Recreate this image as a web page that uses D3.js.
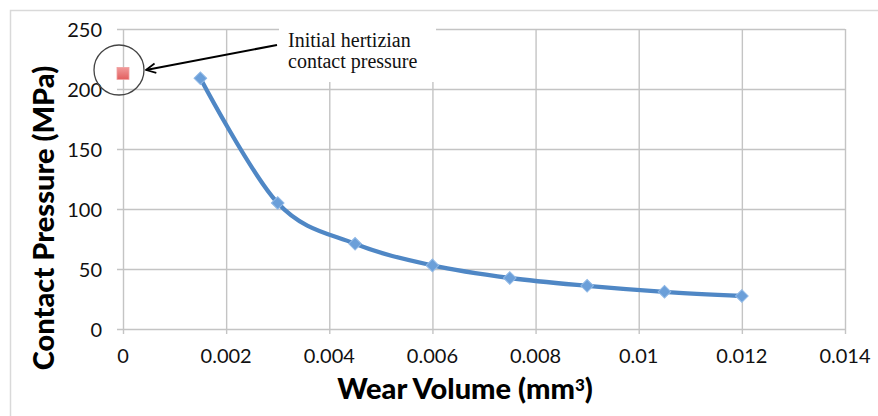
<!DOCTYPE html>
<html lang="en">
<head>
<meta charset="UTF-8" />
<title>Contact Pressure vs Wear Volume</title>
<style>
  body { margin: 0; background: #fff; }
  svg { display: block; }
</style>
</head>
<body>
<svg id="chart" width="878" height="416"></svg>
<script src="https://d3js.org/d3.v7.min.js"></script>
<script>
// data
const wearVolume = [0.0015, 0.003, 0.0045, 0.006, 0.0075, 0.009, 0.0105, 0.012];
const contactPressure = [209, 105, 71, 53, 42.5, 36, 31, 27.5];
const initialVolume = [0];
const initialPressure = [213];
const xTicks = [0, 0.002, 0.004, 0.006, 0.008, 0.01, 0.012, 0.014];
const yTicks = [0, 50, 100, 150, 200, 250];

const svg = d3.select("#chart");
const gridColor = "#c4c4c4";
const tickFont = "Lato, 'Liberation Sans', sans-serif";

const x = d3.scaleLinear().domain([0, 0.014]).range([123, 845]);
const y = d3.scaleLinear().domain([0, 250]).range([329, 29]);

// outer chart frame
svg.append("rect")
  .attr("x", 10.5).attr("y", 10.5)
  .attr("width", 900).attr("height", 450)
  .attr("fill", "none")
  .attr("stroke", "#d9d9d9")
  .attr("stroke-width", 1.5);

// horizontal gridlines + y ticks
const yAxis = d3.axisLeft(y)
  .tickValues(yTicks)
  .tickSize(-(x(0.014) - x(0)))
  .tickPadding(0)
  .tickFormat("");
svg.append("g")
  .attr("transform", `translate(${x(0)},0)`)
  .call(yAxis)
  .call(g => g.select(".domain").remove())
  .call(g => g.selectAll("line")
    .attr("x1", -6)
    .attr("stroke", gridColor)
    .attr("stroke-width", 1.4));

// vertical gridlines + x ticks
const xAxis = d3.axisBottom(x)
  .tickValues(xTicks)
  .tickSize(-(y(0) - y(250)))
  .tickFormat("");
svg.append("g")
  .attr("transform", `translate(0,${y(0)})`)
  .call(xAxis)
  .call(g => g.select(".domain").remove())
  .call(g => g.selectAll("line")
    .attr("y1", 5)
    .attr("stroke", gridColor)
    .attr("stroke-width", 1.4));

// tick labels
svg.append("g").selectAll("text")
  .data(yTicks)
  .join("text")
  .attr("x", 102)
  .attr("y", d => y(d) + 8)
  .attr("text-anchor", "end")
  .style("font-family", tickFont)
  .style("font-size", "20px")
  .style("fill", "#111")
  .text(d => d);

const fmt = d3.format(".3~f");
svg.append("g").selectAll("text")
  .data(xTicks)
  .join("text")
  .attr("x", d => x(d))
  .attr("y", 363)
  .attr("text-anchor", "middle")
  .style("font-family", tickFont)
  .style("font-size", "20px")
  .style("fill", "#111")
  .text(d => fmt(d));

// axis titles
svg.append("text")
  .attr("x", 465)
  .attr("y", 399)
  .attr("text-anchor", "middle")
  .style("font-family", tickFont)
  .style("font-weight", "900")
  .style("font-size", "29px")
  .style("fill", "#000")
  .html("Wear Volume (mm<tspan dy='-8' font-size='17'>3</tspan><tspan dy='8'>)</tspan>");

svg.append("text")
  .attr("transform", "translate(54,218) rotate(-90)")
  .attr("text-anchor", "middle")
  .style("font-family", tickFont)
  .style("font-weight", "900")
  .style("font-size", "29px")
  .style("fill", "#000")
  .text("Contact Pressure (MPa)");

// smoothed series line
const pts = wearVolume.map((v, i) => [v, contactPressure[i]]);
const line = d3.line()
  .x(d => x(d[0]))
  .y(d => y(d[1]))
  .curve(d3.curveCardinal.tension(0));

svg.append("path")
  .datum(pts)
  .attr("d", line)
  .attr("fill", "none")
  .attr("stroke", "#4f87c5")
  .attr("stroke-width", 4.3)
  .attr("stroke-linecap", "round");

// diamond markers
const diamond = d3.symbol().type(d3.symbolSquare).size(80);
svg.append("g").selectAll("path")
  .data(pts)
  .join("path")
  .attr("d", diamond)
  .attr("transform", d => `translate(${x(d[0])},${y(d[1])}) rotate(45)`)
  .attr("fill", "#6b9fd9")
  .attr("stroke", "#8fb8e6")
  .attr("stroke-width", 1);

// initial hertzian point
const defs = svg.append("defs");
const grad = defs.append("linearGradient")
  .attr("id", "redGrad")
  .attr("x1", 0).attr("y1", 0).attr("x2", 0).attr("y2", 1);
grad.append("stop").attr("offset", "0%").attr("stop-color", "#f19a9a");
grad.append("stop").attr("offset", "100%").attr("stop-color", "#e25f5f");

svg.append("g").selectAll("rect")
  .data(initialVolume.map((v, i) => [v, initialPressure[i]]))
  .join("rect")
  .attr("x", d => x(d[0]) - 6)
  .attr("y", d => y(d[1]) - 6)
  .attr("width", 12)
  .attr("height", 12)
  .attr("fill", "url(#redGrad)")
  .attr("stroke", "#f0a0a0")
  .attr("stroke-width", 0.8);

// annotation: circle, arrow, text box
svg.append("circle")
  .attr("cx", 119).attr("cy", 70).attr("r", 25)
  .attr("fill", "none")
  .attr("stroke", "#444")
  .attr("stroke-width", 1.3);

svg.append("rect")
  .attr("x", 279).attr("y", 14)
  .attr("width", 157).attr("height", 68)
  .attr("fill", "#fff");

defs.append("marker")
  .attr("id", "arrowHead")
  .attr("viewBox", "0 0 10 10")
  .attr("refX", 9).attr("refY", 5)
  .attr("markerWidth", 6).attr("markerHeight", 6)
  .attr("markerUnits", "strokeWidth")
  .attr("orient", "auto")
  .append("path")
  .attr("d", "M1,1 L9,5 L1,9")
  .attr("fill", "none")
  .attr("stroke", "#000")
  .attr("stroke-width", 1.4);

svg.append("line")
  .attr("x1", 277).attr("y1", 45)
  .attr("x2", 146).attr("y2", 70)
  .attr("stroke", "#000")
  .attr("stroke-width", 2)
  .attr("marker-end", "url(#arrowHead)");

const note = svg.append("text")
  .style("font-family", "'Liberation Serif', 'DejaVu Serif', serif")
  .style("font-size", "20px")
  .style("fill", "#111");
note.append("tspan").attr("x", 288).attr("y", 47).text("Initial hertizian");
note.append("tspan").attr("x", 288).attr("y", 68).text("contact pressure");
</script>
</body>
</html>
